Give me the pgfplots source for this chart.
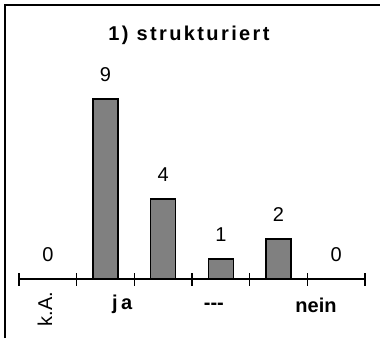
\documentclass[border=0pt]{standalone}
\usepackage{fontspec}
\setmainfont{Liberation Sans}
\usepackage{pgfplots}
\pgfplotsset{compat=1.18}
\begin{document}
\fontsize{20}{24}\selectfont
\begin{tikzpicture}[x=1pt,y=1pt]
\useasboundingbox (0,0) rectangle (380,338);
% frame on the left and top
\draw[line width=2pt] (5,0) -- (5,333) -- (380,333);
\begin{axis}[
  at={(19pt,59pt)}, anchor=south west,
  scale only axis, width=346pt, height=200pt,
  xmin=-0.5, xmax=5.5, ymin=0, ymax=10,
  axis x line*=bottom, hide y axis,
  xtick={-0.5,0.5,1.5,2.5,3.5,4.5,5.5}, xticklabels={},
  % ticks cross the axis line
  x tick style={line width=1.5pt, black, yshift=6.5pt},
  xtick align=outside, major tick length=13pt,
  axis line style={line width=1.5pt},
  ybar, bar width=25pt,
  /pgf/number format/assume math mode=true,
  nodes near coords,
  every node near coord/.append style={anchor=center, yshift=24pt, black},
  clip=false,
]
\addplot[fill=black!50, draw=black, line width=1.2pt]
  coordinates {(0,0) (1,9) (2,4) (3,1) (4,2) (5,0)};
\node[rotate=90] at (axis cs:-0.05,-1.5) {k.A.};
\node[font=\bfseries] at (axis cs:1.29,-1.25) {j\,a};
\node[font=\bfseries] at (axis cs:2.88,-1.35) {{-}{-}{-}};
\node[font=\bfseries] at (axis cs:4.65,-1.3) {nein};
\end{axis}
\node[font=\bfseries\addfontfeatures{LetterSpace=12}] at (189,303) {1) strukturiert};
\end{tikzpicture}
\end{document}
